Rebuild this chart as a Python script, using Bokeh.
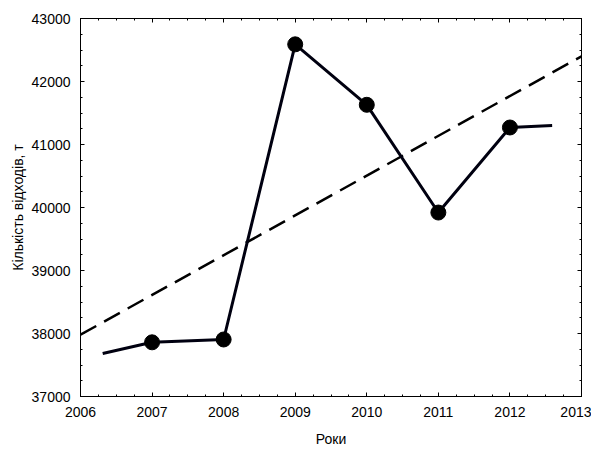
from bokeh.plotting import figure
from bokeh.models import FixedTicker, LinearAxis, CustomJSTickFormatter
from bokeh.embed import file_html
from bokeh.resources import INLINE

# data
years = [2006.31, 2007, 2008, 2009, 2010, 2011, 2012, 2012.59]
values = [37683, 37860, 37905, 42590, 41630, 39920, 41270, 41300]
marker_years = [2007, 2008, 2009, 2010, 2011, 2012]
marker_values = [37860, 37905, 42590, 41630, 39920, 41270]
trend_x = [2006, 2013]
trend_y = [37980, 42400]
x_ticks = [2006, 2007, 2008, 2009, 2010, 2011, 2012, 2013]
y_ticks = [37000, 38000, 39000, 40000, 41000, 42000, 43000]
x_label = "Роки"
y_label = "Кількість відходів, т"

FONT = "Liberation Sans"
FS = "14px"

p = figure(frame_width=501, frame_height=378, x_range=(2006, 2013), y_range=(37000, 43000),
           output_backend="svg", toolbar_location=None,
           min_border_left=80, min_border_right=10, min_border_top=18, min_border_bottom=40)
p.grid.visible = False
p.outline_line_color = "black"
p.background_fill_color = "white"
p.border_fill_color = "white"

x_minor = [x_ticks[0] + i * 0.25 for i in range(4 * (len(x_ticks) - 1) + 1)]
y_minor = [y_ticks[0] + i * 250 for i in range(4 * (len(y_ticks) - 1) + 1)]
xt = FixedTicker(ticks=x_ticks, minor_ticks=x_minor)
yt = FixedTicker(ticks=y_ticks, minor_ticks=y_minor)

def style(ax, labels=True):
    ax.axis_line_color = "black"
    ax.axis_line_width = 1
    ax.major_tick_in = 4
    ax.major_tick_out = 0
    ax.minor_tick_in = 2
    ax.minor_tick_out = 0
    ax.major_tick_line_color = "black"
    ax.minor_tick_line_color = "black"
    if labels:
        ax.major_label_text_font = FONT
        ax.major_label_text_font_size = FS
        ax.major_label_text_color = "black"
        ax.axis_label_text_font = FONT
        ax.axis_label_text_font_size = FS
        ax.axis_label_text_font_style = "normal"
        ax.axis_label_text_color = "black"
    else:
        ax.formatter = CustomJSTickFormatter(code="return ''")
        ax.major_label_standoff = 0

p.xaxis.ticker = xt
p.yaxis.ticker = yt
style(p.xaxis[0])
style(p.yaxis[0])
p.xaxis.axis_label = x_label
p.yaxis.axis_label = y_label
p.xaxis.major_label_standoff = 10
p.yaxis.major_label_standoff = 10
p.xaxis.axis_label_standoff = 11
p.yaxis.axis_label_standoff = 3

top = LinearAxis(ticker=FixedTicker(ticks=x_ticks, minor_ticks=x_minor))
right = LinearAxis(ticker=FixedTicker(ticks=y_ticks, minor_ticks=y_minor))
style(top, labels=False)
style(right, labels=False)
p.add_layout(top, "above")
p.add_layout(right, "right")

p.line(trend_x, trend_y, line_color="black", line_width=2.5, line_dash="18 9")
p.line(years, values, line_color="#000010", line_width=3)
p.scatter(marker_years, marker_values, size=15, fill_color="black", line_color="black")

open("out.html", "w").write(file_html(p, INLINE))
